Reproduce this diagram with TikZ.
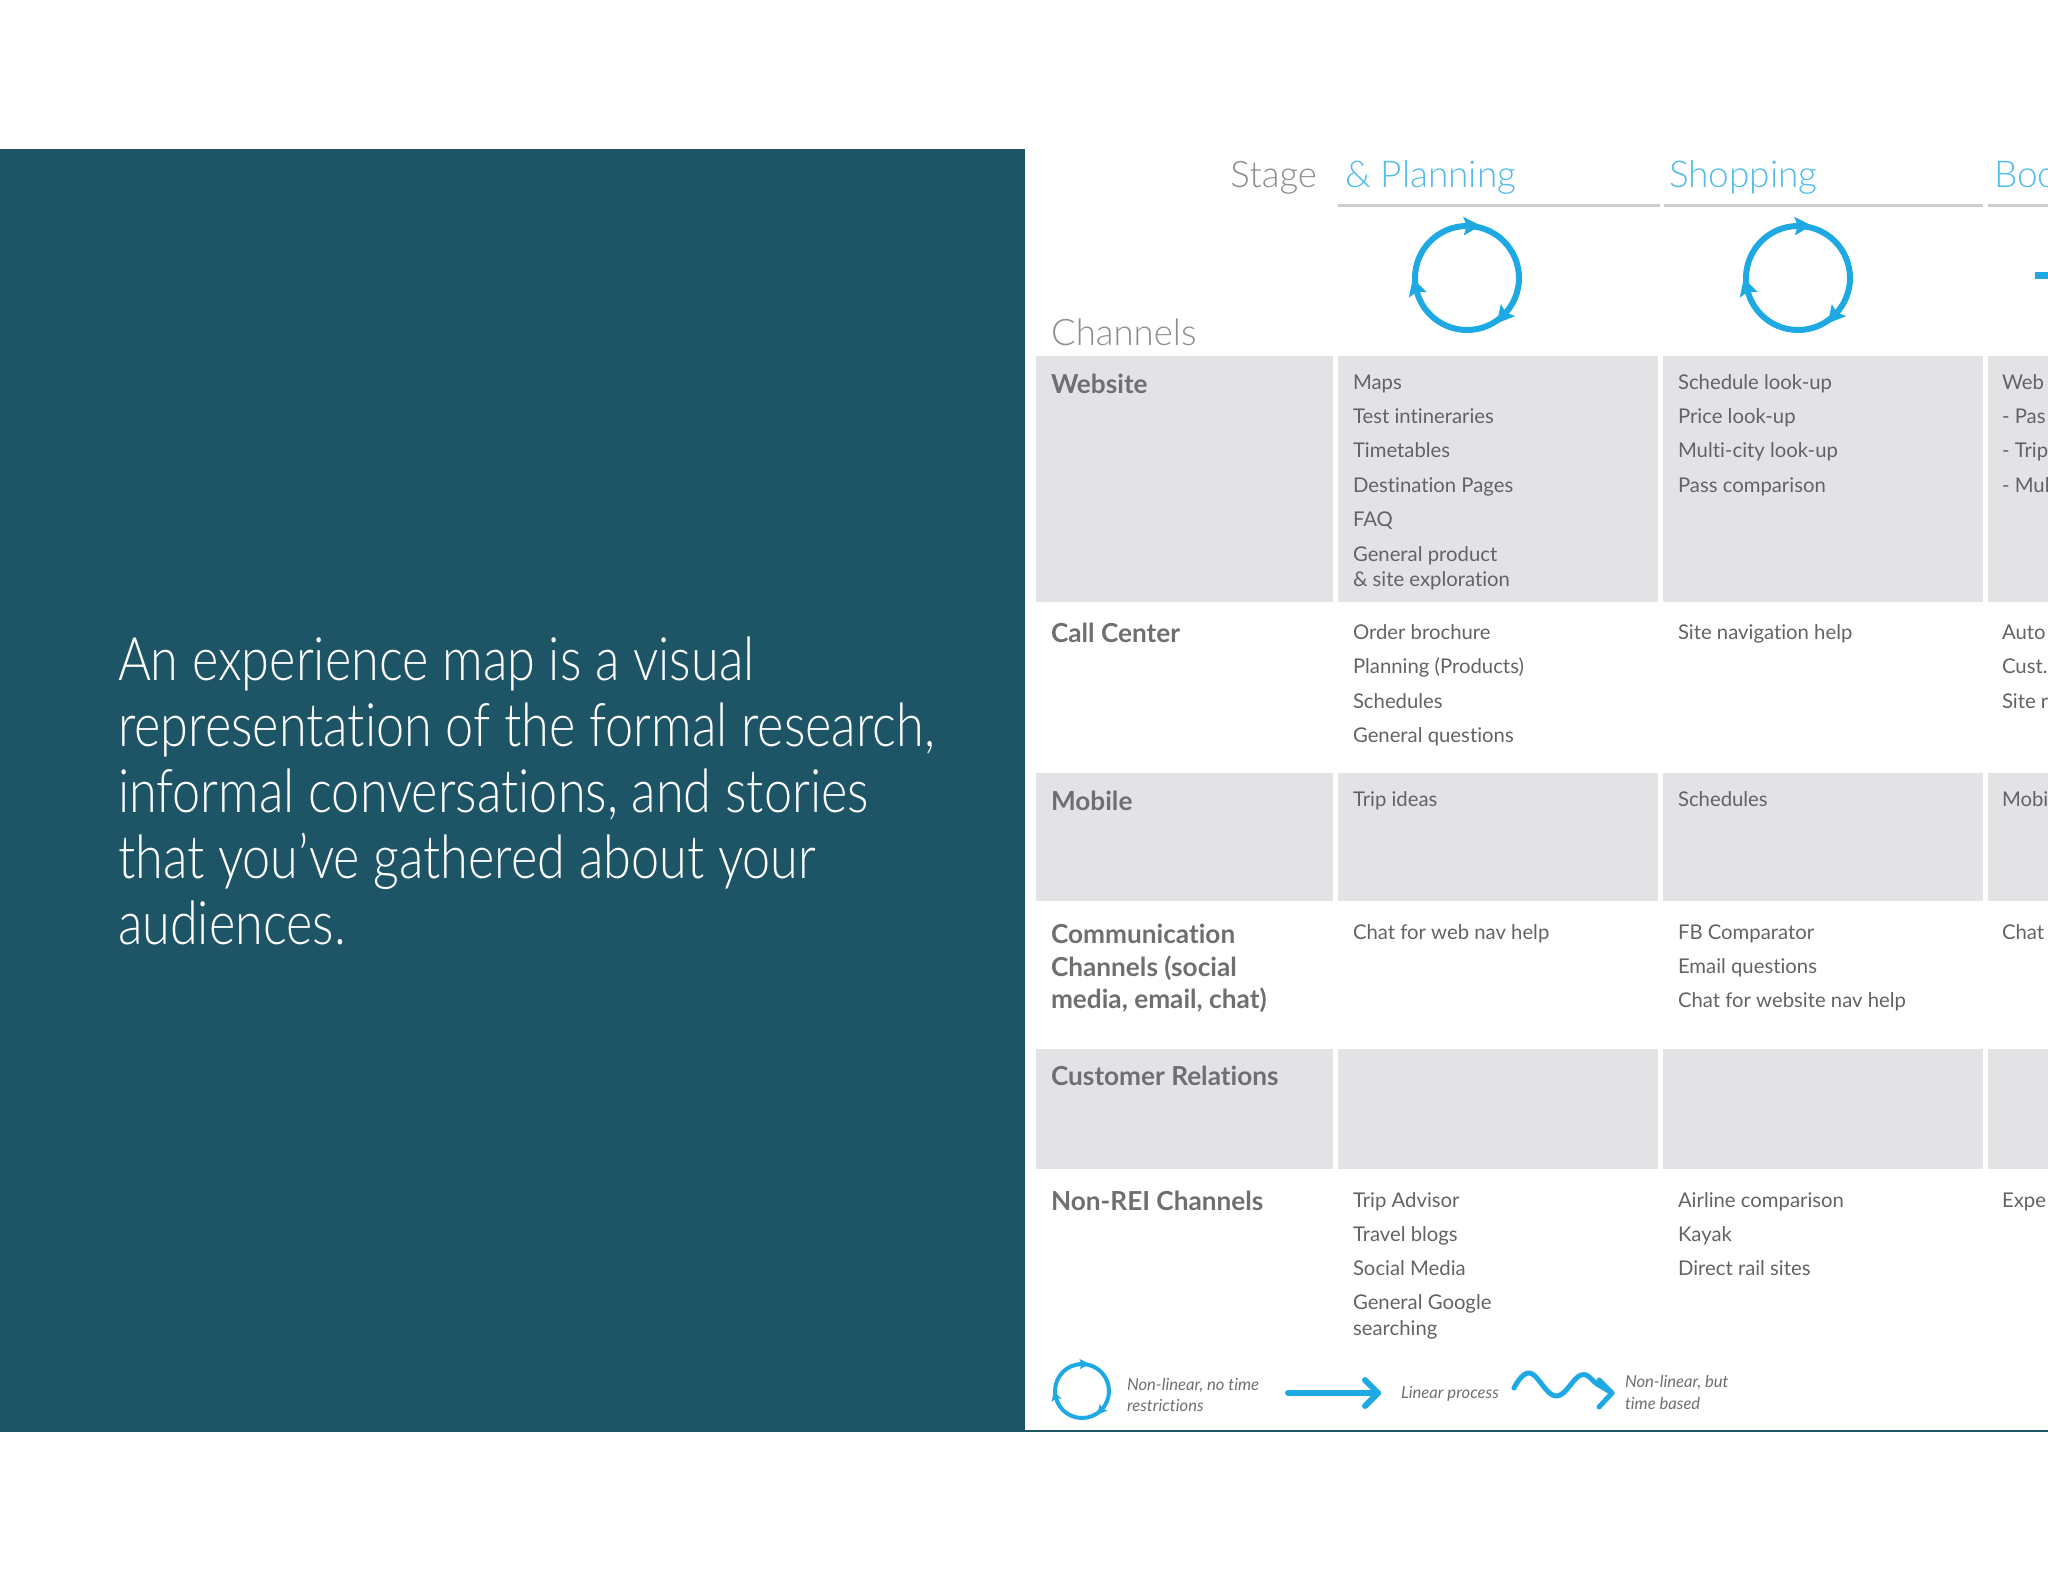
\documentclass[tikz,border=0pt]{standalone}
\usepackage{fontspec}
\usepackage{color}
\usetikzlibrary{arrows.meta}
\setmainfont{Lato}[Ligatures={NoCommon}]
\newfontfamily\panelfont{Lato Light}[FakeStretch=0.84,Ligatures={NoCommon}]
\newfontfamily\lightfont{Lato Light}[Ligatures={NoCommon}]
\definecolor{panelteal}{HTML}{1D5466}
\definecolor{cellgrey}{HTML}{E3E3E5}
\definecolor{ruleblue}{HTML}{1FA9E4}
\definecolor{stageblue}{HTML}{52BCEA}
\definecolor{headgrey}{HTML}{8E8E90}
\definecolor{labelgrey}{HTML}{6E6F71}
\definecolor{itemgrey}{HTML}{626365}
\definecolor{rulegrey}{HTML}{CDCDD0}
\tikzset{
  txt/.style={anchor=base west, inner sep=0pt, outer sep=0pt},
  panel/.style={txt, text=white, font=\panelfont\fontsize{60}{66}\selectfont},
  head/.style={txt, text=headgrey, font=\lightfont\fontsize{36.6}{40}\selectfont},
  stage/.style={txt, text=stageblue, font=\lightfont\fontsize{37}{40}\selectfont},
  label/.style={txt, text=labelgrey, font=\bfseries\fontsize{26.2}{30}\selectfont},
  item/.style={txt, text=itemgrey, font=\fontsize{20.3}{26}\selectfont},
  note/.style={txt, text=labelgrey, font=\itshape\fontsize{16.6}{20}\selectfont},
  cell/.style={fill=cellgrey},
  blueline/.style={draw=ruleblue, line cap=round, line join=round},
}
\newcommand{\cyclemark}[5]{
  \draw[blueline, line width=#4pt] (#1,#2) circle (#3) ;
  \foreach \a in {-92,40,163} {
    \draw[ruleblue, line width=#4pt, -{Stealth[length=17pt,width=18pt,inset=3pt,scale=#5]}]
      ([shift={(\a:#3)}]#1,#2) -- ++(\a+90:.3*#3) ;
  }
}
\begin{document}
\begin{tikzpicture}[x=1pt, y=-1pt]
\useasboundingbox (0,0) rectangle (2048,1582) ;
\clip (0,0) rectangle (2048,1582) ;
\fill[panelteal] (0,149) rectangle (1025,1432) ;
\fill[panelteal] (1025,1430) rectangle (2048,1432) ;
% panel text
\node[panel] (p1) at (118,680) {An experience map is a visual} ;
\node[panel] (p2) at (118,746) {representation of the formal research,} ;
\node[panel] (p3) at (118,812) {informal conversations, and stories} ;
\node[panel] (p4) at (118,878) {that you’ve gathered about your} ;
\node[panel] (p5) at (118,944) {audiences.} ;
% cells
\fill[cell] (1036,356) rectangle (1333,602) ;
\fill[cell] (1338,356) rectangle (1658,602) ;
\fill[cell] (1663,356) rectangle (1983,602) ;
\fill[cell] (1988,356) rectangle (2048,602) ;
\fill[cell] (1036,773) rectangle (1333,901) ;
\fill[cell] (1338,773) rectangle (1658,901) ;
\fill[cell] (1663,773) rectangle (1983,901) ;
\fill[cell] (1988,773) rectangle (2048,901) ;
\fill[cell] (1036,1049) rectangle (1333,1169) ;
\fill[cell] (1338,1049) rectangle (1658,1169) ;
\fill[cell] (1663,1049) rectangle (1983,1169) ;
\fill[cell] (1988,1049) rectangle (2048,1169) ;
% header
\node[head, anchor=base east] (stagehead) at (1317,187) {Stage} ;
\node[stage] (planning) at (1345,187) {\& Planning} ;
\node[stage] (shopping) at (1669,187) {Shopping} ;
\node[stage] (booking) at (1994,187) {Boo} ;
\node[head] (channels) at (1051,345) {Channels} ;
\draw[rulegrey, line width=3pt] (1338,205) -- (1660,205) ;
\draw[rulegrey, line width=3pt] (1664,205) -- (1983,205) ;
\draw[rulegrey, line width=3pt] (1988,205) -- (2048,205) ;
\cyclemark{1467}{278}{52}{6}{1}
\cyclemark{1798}{278}{52}{6}{1}
\coordinate (S) at (2035,275) ;
\coordinate (T) at (2060,275) ;
\draw[ruleblue, line width=7pt] (S) -- (T) ;
% first column
\node[label] (website) at (1051,393) {Website} ;
\node[label] (callcenter) at (1051,642) {Call Center} ;
\node[label] (mobile) at (1051,810) {Mobile} ;
\node[label] (comm1) at (1051,943) {Communication} ;
\node[label] (comm2) at (1051,976) {Channels (social} ;
\node[label] (comm3) at (1051,1008) {media, email, chat)} ;
\node[label] (relations) at (1051,1085) {Customer Relations} ;
\node[label] (nonrei) at (1051,1210) {Non-REI Channels} ;
% planning column
\node[item] (a1) at (1353,389) {Maps} ;
\node[item] (a2) at (1353,423) {Test intineraries} ;
\node[item] (a3) at (1353,457) {Timetables} ;
\node[item] (a4) at (1353,492) {Destination Pages} ;
\node[item] (a5) at (1353,526) {FAQ} ;
\node[item] (a6) at (1353,561) {General product} ;
\node[item] (a7) at (1353,586) {\& site exploration} ;
\node[item] (a8) at (1353,639) {Order brochure} ;
\node[item] (a9) at (1353,673) {Planning (Products)} ;
\node[item] (a10) at (1353,708) {Schedules} ;
\node[item] (a11) at (1353,742) {General questions} ;
\node[item] (a12) at (1353,806) {Trip ideas} ;
\node[item] (a13) at (1353,939) {Chat for web nav help} ;
\node[item] (a14) at (1353,1207) {Trip Advisor} ;
\node[item] (a15) at (1353,1241) {Travel blogs} ;
\node[item] (a16) at (1353,1275) {Social Media} ;
\node[item] (a17) at (1353,1309) {General Google} ;
\node[item] (a18) at (1353,1335) {searching} ;
% shopping column
\node[item] (b1) at (1678,389) {Schedule look-up} ;
\node[item] (b2) at (1678,423) {Price look-up} ;
\node[item] (b3) at (1678,457) {Multi-city look-up} ;
\node[item] (b4) at (1678,492) {Pass comparison} ;
\node[item] (b5) at (1678,639) {Site navigation help} ;
\node[item] (b6) at (1678,806) {Schedules} ;
\node[item] (b7) at (1678,939) {FB Comparator} ;
\node[item] (b8) at (1678,973) {Email questions} ;
\node[item] (b9) at (1678,1007) {Chat for website nav help} ;
\node[item] (b10) at (1678,1207) {Airline comparison} ;
\node[item] (b11) at (1678,1241) {Kayak} ;
\node[item] (b12) at (1678,1275) {Direct rail sites} ;
% booking column
\node[item] (c1) at (2002,389) {Web} ;
\node[item] (c2) at (2002,423) {- Pas} ;
\node[item] (c3) at (2002,457) {- Trip} ;
\node[item] (c4) at (2002,492) {- Mul} ;
\node[item] (c5) at (2002,639) {Auto} ;
\node[item] (c6) at (2002,673) {Cust.} ;
\node[item] (c7) at (2002,708) {Site r} ;
\node[item] (c8) at (2002,806) {Mobi} ;
\node[item] (c9) at (2002,939) {Chat} ;
\node[item] (c10) at (2002,1207) {Expe} ;
% legend
\cyclemark{1082}{1391}{27}{4}{.55}
\node[note] (n1) at (1127,1390) {Non-linear, no time} ;
\node[note] (n2) at (1127,1411) {restrictions} ;
\coordinate (L) at (1288,1393) ;
\coordinate (R) at (1378,1393) ;
\coordinate (Ru) at (1365,1380) ;
\coordinate (Rd) at (1365,1406) ;
\draw[blueline, line width=6pt] (L) -- (R) ;
\draw[blueline, line width=6pt] (Ru) -- (R) -- (Rd) ;
\node[note] (n3) at (1401,1398) {Linear process} ;
\coordinate (W) at (1612,1393) ;
\coordinate (Wu) at (1599,1380) ;
\coordinate (Wd) at (1599,1407) ;
\draw[blueline, line width=5pt]
  plot[smooth, tension=.7] coordinates {(1514,1388) (1530,1373) (1556,1396) (1581,1375) (1597,1384) (W)} ;
\draw[blueline, line width=5pt] (Wu) -- (W) -- (Wd) ;
\node[note] (n4) at (1625,1387) {Non-linear, but} ;
\node[note] (n5) at (1625,1409) {time based} ;
\end{tikzpicture}
\end{document}
